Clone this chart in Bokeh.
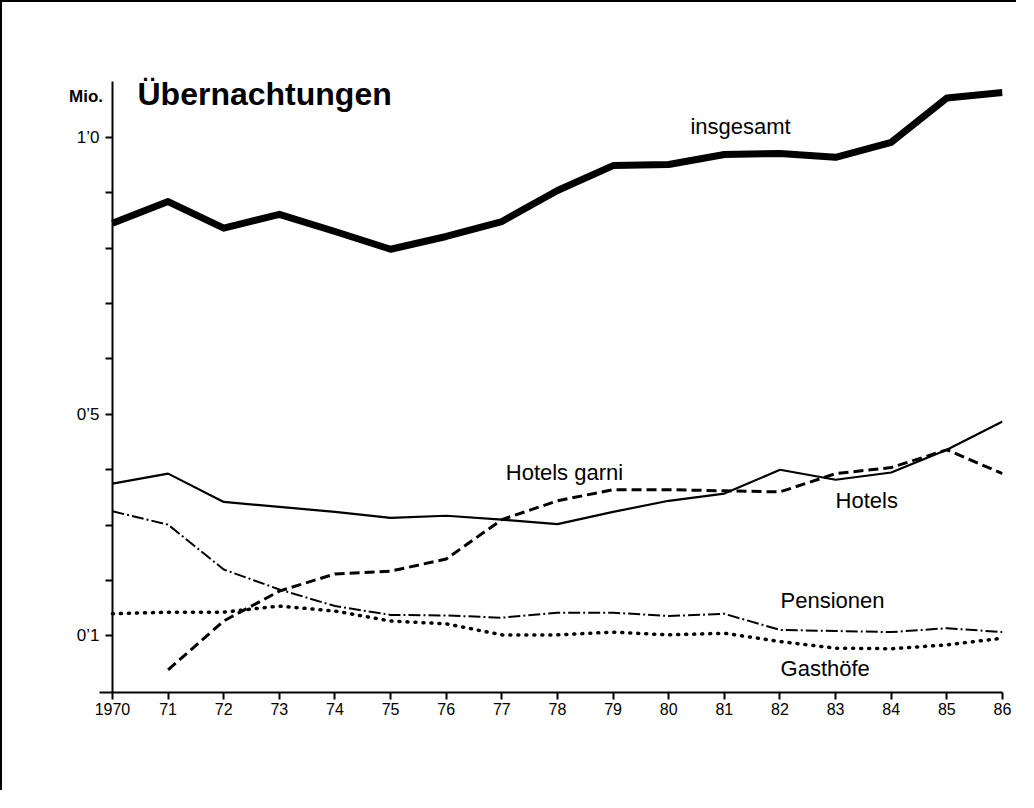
from bokeh.plotting import figure
from bokeh.models import LinearAxis, FixedTicker, CustomJSTickFormatter, Label, Range1d
from bokeh.embed import file_html
from bokeh.resources import INLINE

years = list(range(1970, 1987))
x_labels = ["1970", "71", "72", "73", "74", "75", "76", "77", "78", "79",
            "80", "81", "82", "83", "84", "85", "86"]
y_ticks = [0.1, 0.5, 1.0]
y_minor = [0.2, 0.3, 0.4, 0.6, 0.7, 0.8, 0.9]

insgesamt = [0.845, 0.884, 0.836, 0.861, 0.830, 0.798, 0.821, 0.848, 0.904,
             0.949, 0.951, 0.969, 0.971, 0.964, 0.991, 1.071, 1.081]
hotels = [0.375, 0.393, 0.342, 0.333, 0.324, 0.313, 0.317, 0.310, 0.302,
          0.324, 0.344, 0.357, 0.400, 0.382, 0.395, 0.436, 0.487]
garni_years = list(range(1971, 1987))
hotels_garni = [0.039, 0.127, 0.181, 0.212, 0.217, 0.239, 0.310, 0.344,
                0.364, 0.364, 0.362, 0.360, 0.393, 0.404, 0.436, 0.393]
pensionen = [0.325, 0.301, 0.220, 0.184, 0.154, 0.138, 0.137, 0.133, 0.142,
             0.142, 0.136, 0.140, 0.111, 0.109, 0.107, 0.114, 0.107]
gasthoefe = [0.140, 0.143, 0.143, 0.154, 0.145, 0.127, 0.122, 0.102, 0.102,
             0.107, 0.102, 0.105, 0.090, 0.078, 0.077, 0.084, 0.096]

FONT = "Liberation Sans"

p = figure(width=1016, height=790, output_backend="svg", toolbar_location=None,
           x_range=Range1d(1968.85, 1986.0), y_range=Range1d(-0.002, 1.2),
           y_axis_location=None, x_axis_location=None,
           min_border_left=46, min_border_right=16, min_border_top=24,
           min_border_bottom=100, outline_line_color=None)
p.styles = {"border-top": "2px solid black", "border-left": "2px solid black"}
p.grid.visible = False
p.background_fill_color = "white"
p.border_fill_color = "white"

xaxis = LinearAxis(ticker=FixedTicker(ticks=years), bounds=(1969.77, 1986.0),
                   major_label_overrides={y: l for y, l in zip(years, x_labels)})
xaxis.axis_line_width = 2
xaxis.axis_line_color = "black"
xaxis.major_tick_line_width = 2
xaxis.major_tick_out = 7
xaxis.major_tick_in = 0
xaxis.minor_tick_out = 0
xaxis.major_label_standoff = 3
xaxis.major_label_text_font = FONT
xaxis.major_label_text_font_size = "16px"
xaxis.major_label_text_color = "black"
p.add_layout(xaxis, "below")

yaxis = LinearAxis(fixed_location=1970, bounds=(-0.012, 1.1),
                   ticker=FixedTicker(ticks=y_ticks, minor_ticks=y_minor),
                   formatter=CustomJSTickFormatter(code="return tick.toFixed(1).replace('.', '\u2019');"))
yaxis.axis_line_width = 2
yaxis.axis_line_color = "black"
yaxis.major_tick_line_width = 2
yaxis.minor_tick_line_width = 2
yaxis.major_tick_out = 7
yaxis.major_tick_in = 0
yaxis.minor_tick_out = 7
yaxis.minor_tick_in = 0
yaxis.minor_tick_line_color = "black"
yaxis.major_label_standoff = 6
yaxis.major_label_text_font = FONT
yaxis.major_label_text_font_size = "17px"
yaxis.major_label_text_color = "black"
p.add_layout(yaxis, "left")

p.line(years, insgesamt, line_width=7, color="black", line_join="round")
p.line(years, hotels, line_width=2.2, color="black")
p.line(garni_years, hotels_garni, line_width=3, color="black", line_dash="10 5")
p.line(years, pensionen, line_width=2, color="black", line_dash="12 3 2 3")
p.line(years, gasthoefe, line_width=3.5, color="black", line_dash="1 7",
       line_cap="round")

def lab(x, y, t, size, bold=False):
    p.add_layout(Label(x=x, y=y, text=t, text_font=FONT, text_font_size=size,
                       text_font_style="bold" if bold else "normal",
                       text_baseline="middle", text_align="left", text_color="black"))

lab(1970.45, 1.078, "Übernachtungen", "32px", True)
lab(1969.22, 1.073, "Mio.", "17px", True)
lab(1980.39, 1.019, "insgesamt", "22px")
lab(1977.07, 0.395, "Hotels garni", "22px")
lab(1983.0, 0.344, "Hotels", "22px")
lab(1982.01, 0.164, "Pensionen", "22px")
lab(1982.01, 0.0415, "Gasthöfe", "22px")

open("out.html", "w").write(file_html(p, INLINE))
